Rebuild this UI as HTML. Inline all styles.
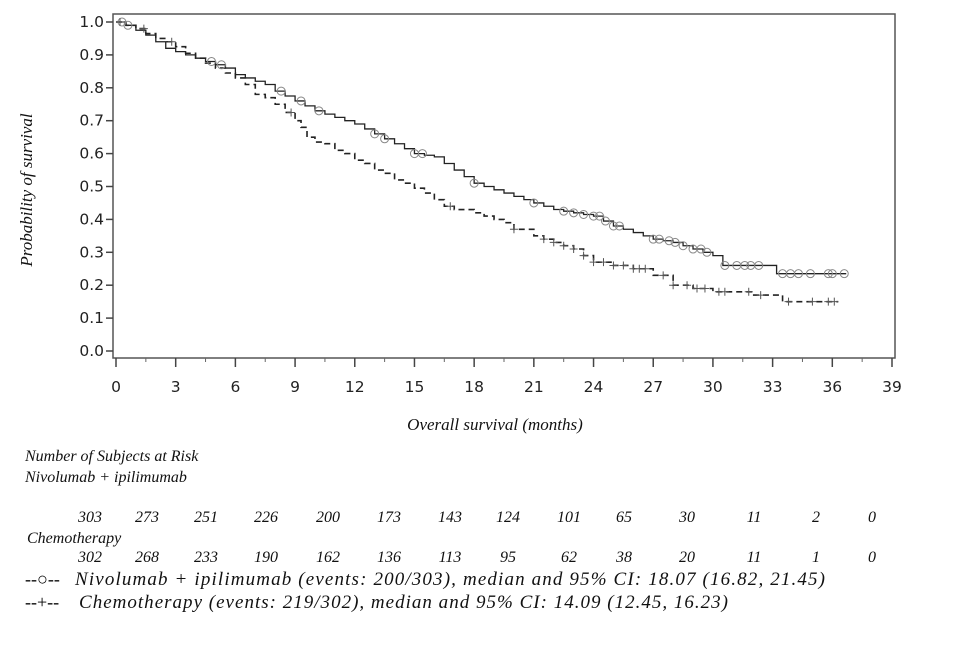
<!DOCTYPE html>
<html><head><meta charset="utf-8"><style>
body{margin:0;background:#fff;width:960px;height:640px;overflow:hidden}
svg text{font-family:"Liberation Serif",serif}
.tk{font-family:"DejaVu Sans","Liberation Sans",sans-serif;font-size:15.5px;fill:#222}
.it{font-style:italic;font-size:16px;fill:#111}
</style></head><body>
<svg id="chart" width="960" height="640" xmlns="http://www.w3.org/2000/svg">
<rect x="113" y="14" width="782" height="344" fill="none" stroke="#555" stroke-width="1.5"/>
<g id="axes"></g><g id="series"></g>
<text class="it" transform="translate(32,190) rotate(-90)" text-anchor="middle" style="font-size:17px">Probability of survival</text>
<text class="it" x="495" y="430" text-anchor="middle" style="font-size:17px">Overall survival (months)</text>
<text class="it" x="25" y="461">Number of Subjects at Risk</text>
<text class="it" x="25" y="482">Nivolumab + ipilimumab</text>
<text class="it" x="27" y="543">Chemotherapy</text>
<g id="risk"></g>
<text x="25" y="585" style="font-size:18px">--○--</text>
<text class="it" x="75" y="585" textLength="750" lengthAdjust="spacing" style="font-size:19px">Nivolumab + ipilimumab (events: 200/303), median and 95% CI: 18.07 (16.82, 21.45)</text>
<text x="25" y="608" style="font-size:18px">--+--</text>
<text class="it" x="79" y="608" textLength="649" lengthAdjust="spacing" style="font-size:19px">Chemotherapy (events: 219/302), median and 95% CI: 14.09 (12.45, 16.23)</text>
</svg>
<script>
const xTicks=[0,3,6,9,12,15,18,21,24,27,30,33,36,39];
const yTicks=[0,0.1,0.2,0.3,0.4,0.5,0.6,0.7,0.8,0.9,1.0];
const nivoT=[0,0.5,1,1.5,2,2.5,3,3.5,4,4.5,5,5.5,6,6.5,7,7.5,8,8.5,9,9.5,10,10.5,11,11.5,12,12.5,13,13.5,14,14.5,15,15.5,16,16.5,17,17.5,18,18.5,19,19.5,20,20.5,21,21.5,22,22.5,23,23.5,24,24.5,25,25.5,26,26.5,27,27.5,28,28.5,29,29.5,30,30.5,33.2,36.7];
const nivoS=[1,0.99,0.975,0.96,0.94,0.92,0.91,0.90,0.89,0.88,0.87,0.86,0.84,0.83,0.82,0.81,0.79,0.775,0.76,0.745,0.73,0.72,0.71,0.70,0.69,0.675,0.66,0.645,0.63,0.615,0.60,0.595,0.59,0.57,0.55,0.53,0.51,0.50,0.49,0.48,0.47,0.46,0.45,0.44,0.43,0.425,0.42,0.415,0.41,0.395,0.38,0.37,0.36,0.35,0.34,0.335,0.33,0.32,0.31,0.30,0.29,0.26,0.235,0.235];
const nivoCens=[0.3,0.6,4.8,5.3,8.3,9.3,10.2,13,13.5,15,15.4,18,21,22.5,23,23.5,24,24.3,24.6,25,25.3,27,27.3,27.8,28.1,28.5,29,29.4,29.7,30.6,31.2,31.6,31.9,32.3,33.5,33.9,34.3,34.9,35.8,36,36.6];
const chemoT=[0,0.5,1,1.5,2,2.5,3,3.5,4,4.5,5,5.5,6,6.5,7,7.5,8,8.5,9,9.3,9.6,10,10.5,11,11.5,12,12.5,13,13.5,14,14.5,15,15.5,16,16.5,17,17.5,18,18.5,19,19.5,20,20.5,21,21.5,22,22.5,23,23.5,24,25,26,27,28,29,30,32,33.5,36.3];
const chemoS=[1,0.99,0.98,0.965,0.95,0.94,0.925,0.905,0.89,0.875,0.86,0.845,0.83,0.81,0.78,0.77,0.75,0.725,0.70,0.68,0.65,0.635,0.63,0.61,0.60,0.58,0.57,0.55,0.54,0.52,0.51,0.495,0.48,0.46,0.44,0.43,0.43,0.42,0.41,0.40,0.39,0.37,0.37,0.35,0.34,0.33,0.32,0.31,0.29,0.27,0.26,0.25,0.23,0.20,0.19,0.18,0.17,0.15,0.15];
const chemoCens=[0.2,1.4,2.8,8.8,16.8,20,21.5,22,22.5,23,23.5,24,24.5,25,25.5,26,26.3,26.6,27.5,28,28.7,29.2,29.6,30.3,30.6,31.8,32.4,33.8,35,35.8,36.1];
const riskNivo=[303,273,251,226,200,173,143,124,101,65,30,11,2,0];
const riskChemo=[302,268,233,190,162,136,113,95,62,38,20,11,1,0];
const riskX=[90,147,206,266,328,389,450,508,569,624,687,754,816,872];
const NS="http://www.w3.org/2000/svg";
const X=t=>116+t*(776/39), Y=s=>351-s*329;
function mk(tag,attrs,parent){const e=document.createElementNS(NS,tag);for(const k in attrs)e.setAttribute(k,attrs[k]);parent.appendChild(e);return e;}
const ax=document.getElementById('axes');
xTicks.forEach(t=>{
 const l=mk('line',{x1:X(t),x2:X(t),y1:358,y2:367,stroke:'#444','stroke-width':1.5},ax);
 
 
 const tx=mk('text',{x:X(t),y:392,'text-anchor':'middle',class:'tk'},ax);tx.textContent=t;
 
 
 if(t<39){const m=mk('line',{x1:X(t+1.5),x2:X(t+1.5),y1:358,y2:362,stroke:'#666'},ax);
 
 }
});
yTicks.forEach(v=>{
 const l=mk('line',{x1:106,x2:113,y1:Y(v),y2:Y(v),stroke:'#444','stroke-width':1.5},ax);
 
 
 const tx=mk('text',{x:104,y:Y(v)+5,'text-anchor':'end',class:'tk'},ax);tx.textContent=v.toFixed(1);
 
 
});
function stepPath(T,S){let d='M'+X(T[0])+','+Y(S[0]);for(let i=1;i<T.length;i++){d+=' H'+X(T[i])+' V'+Y(S[i]);}return d;}
function survAt(T,S,t){let s=S[0];for(let i=0;i<T.length;i++){if(T[i]<=t)s=S[i];}return s;}
const sg=document.getElementById('series');
const p1=mk('path',{d:stepPath(nivoT,nivoS),fill:'none',stroke:'#222','stroke-width':1.3},sg);


const p2=mk('path',{d:stepPath(chemoT,chemoS),fill:'none',stroke:'#222','stroke-width':1.6,'stroke-dasharray':'6,4'},sg);


nivoCens.forEach(t=>{const c=mk('circle',{cx:X(t),cy:Y(survAt(nivoT,nivoS,t)),r:4,fill:'none',stroke:'#888','stroke-width':1},sg);
 
 });
chemoCens.forEach(t=>{const y=Y(survAt(chemoT,chemoS,t)),x=X(t);
 const c=mk('path',{d:`M${x-4},${y} H${x+4} M${x},${y-4} V${y+4}`,stroke:'#555','stroke-width':1},sg);
 
 });
const rg=document.getElementById('risk');
riskNivo.forEach((v,i)=>{const t=mk('text',{x:riskX[i],y:522,'text-anchor':'middle',class:'it'},rg);t.textContent=v;
 
 });
riskChemo.forEach((v,i)=>{const t=mk('text',{x:riskX[i],y:562,'text-anchor':'middle',class:'it'},rg);t.textContent=v;
 
 });
</script>
</body></html>
